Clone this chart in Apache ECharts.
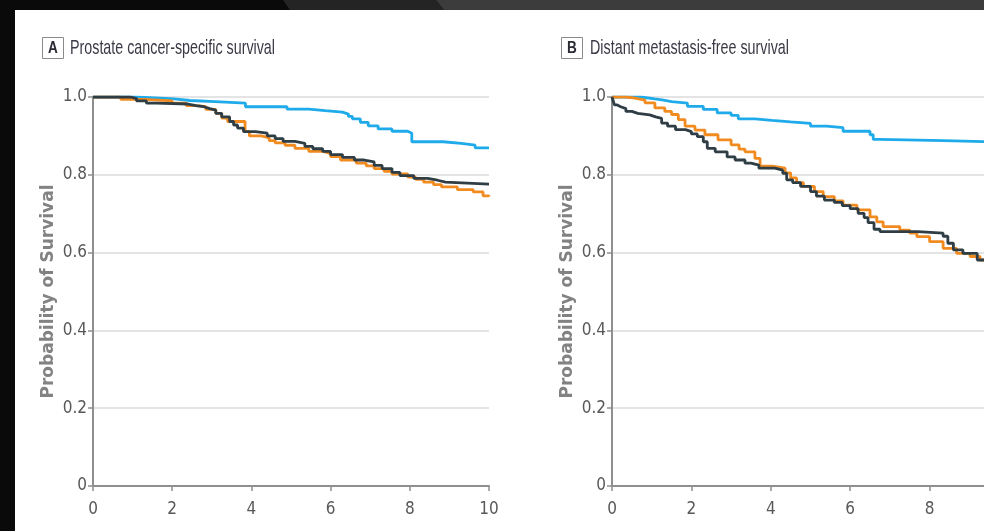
<!DOCTYPE html>
<html><head><meta charset="utf-8">
<script src="https://cdn.jsdelivr.net/npm/echarts@6/dist/echarts.min.js"></script>
<style>html,body{margin:0;padding:0;background:#0a0a0a;}#c{width:984px;height:531px;}</style>
</head><body><div id="c"></div>
<script>
// ---- Data (years, survival probability) ----
var xTicks = [0, 2, 4, 6, 8, 10];
var yTicks = [0, 0.2, 0.4, 0.6, 0.8, 1.0];
var panelTitles = ['Prostate cancer-specific survival', 'Distant metastasis-free survival'];
var panelLetters = ['A', 'B'];
var yAxisTitle = 'Probability of Survival';

// Panel A: prostate cancer-specific survival
var A_blue_t = [0,1.05,1.55,2.05,2.45,3.08,3.85,4.9,5.45,5.86,6.3,6.45,6.55,6.75,6.95,7.2,7.55,7.95,8.05,8.84,9.3,9.65,10];
var A_blue_s = [1,0.998,0.995,0.991,0.988,0.984,0.975,0.969,0.965,0.961,0.956,0.950,0.944,0.935,0.926,0.918,0.912,0.907,0.885,0.881,0.876,0.869,0.869];
var A_orange_t = [0,0.7,1.3,2.0,2.35,2.6,2.85,3.1,3.25,3.4,3.84,3.95,4.25,4.45,4.6,4.85,5.1,5.45,5.8,6.0,6.25,6.65,6.9,7.1,7.35,7.55,7.95,8.15,8.35,8.6,8.8,9.2,9.6,9.85,10];
var A_orange_s = [1,0.994,0.99,0.984,0.978,0.975,0.968,0.958,0.946,0.937,0.911,0.9,0.895,0.888,0.882,0.876,0.868,0.86,0.855,0.847,0.838,0.83,0.823,0.816,0.809,0.802,0.794,0.788,0.781,0.775,0.769,0.762,0.756,0.746,0.744];
var A_dark_t = [0,0.95,1.1,1.35,1.6,2.4,2.6,2.8,2.95,3.1,3.25,3.45,3.55,3.65,3.8,4.1,4.4,4.6,4.8,5.1,5.35,5.55,5.8,6.0,6.3,6.6,6.85,7.1,7.3,7.55,7.75,8.1,8.45,8.7,8.9,10];
var A_dark_s = [1,0.996,0.99,0.984,0.982,0.978,0.975,0.97,0.966,0.958,0.949,0.937,0.928,0.92,0.911,0.907,0.9,0.893,0.886,0.881,0.873,0.867,0.86,0.852,0.845,0.838,0.833,0.824,0.816,0.806,0.798,0.791,0.786,0.781,0.776,0.776];

// Panel B: distant metastasis-free survival
var B_blue_t = [0,0.72,1.08,1.3,1.5,1.9,2.3,2.65,3.0,3.18,3.6,4.03,4.5,5.0,5.4,5.82,6.5,6.58,6.75,8.34,10];
var B_blue_s = [1,0.995,0.992,0.988,0.984,0.976,0.968,0.959,0.953,0.944,0.94,0.936,0.932,0.925,0.921,0.912,0.903,0.891,0.888,0.884,0.884];
var B_orange_t = [0,0.35,0.58,0.83,1.08,1.33,1.5,1.67,1.84,2.09,2.34,2.67,3.0,3.2,3.35,3.6,3.73,4.03,4.36,4.5,4.65,4.82,5.1,5.32,5.6,5.82,6.17,6.5,6.67,6.83,7.25,7.5,7.68,8.0,8.34,8.68,9.02,9.27,9.6,10];
var B_orange_s = [1,0.997,0.992,0.985,0.972,0.963,0.955,0.942,0.925,0.915,0.903,0.89,0.877,0.866,0.859,0.842,0.822,0.817,0.805,0.792,0.78,0.77,0.757,0.744,0.733,0.722,0.71,0.692,0.679,0.667,0.658,0.65,0.641,0.628,0.611,0.598,0.59,0.581,0.575,0.57];
var B_dark_t = [0,0.03,0.06,0.12,0.22,0.35,0.5,0.65,0.95,1.1,1.25,1.4,1.6,1.85,2.0,2.15,2.3,2.4,2.6,2.9,3.1,3.35,3.5,3.7,4.1,4.3,4.4,4.55,4.75,5.0,5.15,5.35,5.6,5.8,6.0,6.2,6.35,6.45,6.6,6.75,7.7,8.34,8.46,8.6,8.84,9.2,9.6,10];
var B_dark_s = [1,0.99,0.98,0.975,0.97,0.963,0.958,0.954,0.949,0.945,0.933,0.925,0.916,0.911,0.905,0.898,0.885,0.868,0.859,0.846,0.838,0.83,0.825,0.817,0.812,0.804,0.787,0.78,0.77,0.757,0.745,0.735,0.729,0.721,0.713,0.701,0.69,0.677,0.66,0.654,0.65,0.642,0.624,0.607,0.598,0.581,0.575,0.57];

var colBlue = '#1faaea', colOrange = '#f18b1f', colDark = '#2f3d45';

function pairs(t, s) { return t.map(function (v, i) { return [v, s[i]]; }); }

var chart = echarts.init(document.getElementById('c'), null, {renderer: 'canvas'});
var labelFont = "'DejaVu Sans Condensed', 'Liberation Sans', sans-serif";
var titleFont = "'Liberation Sans', sans-serif";
var axisCol = '#8f8f8f';

// measure title widths so condensed look matches the reference width
var mctx = document.createElement('canvas').getContext('2d');
mctx.font = '21px ' + titleFont;
var titleTargetW = [205, 199];
var titleScale = panelTitles.map(function (t, i) { return titleTargetW[i] / mctx.measureText(t).width; });

function xAx(i) {
  return {
    type: 'value', gridIndex: i, min: xTicks[0], max: xTicks[xTicks.length - 1], interval: 2,
    axisLine: {show: true, onZero: false, lineStyle: {color: axisCol, width: 2}},
    axisTick: {show: true, length: 5, lineStyle: {color: axisCol, width: 1.5}},
    axisLabel: {color: '#585858', fontFamily: labelFont, fontSize: 17, margin: 15},
    splitLine: {show: false}
  };
}
function yAx(i) {
  return {
    type: 'value', gridIndex: i, min: yTicks[0], max: yTicks[yTicks.length - 1], interval: 0.2,
    axisLine: {show: true, onZero: false, lineStyle: {color: axisCol, width: 2}},
    axisTick: {show: true, length: 5, lineStyle: {color: axisCol, width: 1.5}},
    axisLabel: {color: '#585858', fontFamily: labelFont, fontSize: 17, margin: 6,
      formatter: function (v) { return v === 0 ? '0' : v.toFixed(1); }},
    splitLine: {show: true, lineStyle: {color: '#e4e4e4', width: 2}},
    name: yAxisTitle, nameLocation: 'middle', nameGap: 36,
    nameTextStyle: {fontFamily: 'DejaVu Sans', fontWeight: 'bold', fontSize: 17, color: '#828282'}
  };
}
function line(name, i, t, s, c, z) {
  return {
    name: name, type: 'line', xAxisIndex: i, yAxisIndex: i, step: 'end', showSymbol: false,
    data: pairs(t, s), lineStyle: {color: c, width: 2.8}, itemStyle: {color: c}, z: z,
    animation: false, silent: true
  };
}

var titleStyle = {fontFamily: titleFont, fontSize: 21, fill: '#3a3a46'};
chart.setOption({
  animation: false,
  backgroundColor: 'transparent',
  grid: [
    {left: 93, top: 97, width: 396, height: 389, containLabel: false, outerBoundsMode: 'none'},
    {left: 612, top: 97, width: 397, height: 389, containLabel: false, outerBoundsMode: 'none'}
  ],
  xAxis: [xAx(0), xAx(1)],
  yAxis: [yAx(0), yAx(1)],
  graphic: {elements: [
    {type: 'rect', z: -100, shape: {x: 15, y: 10, width: 969, height: 521}, style: {fill: '#ffffff'}},
    {type: 'polygon', z: -100, shape: {points: [[283, 0], [436, 0], [444, 10], [290, 10]]}, style: {fill: '#242424'}},
    {type: 'polygon', z: -100, shape: {points: [[436, 0], [984, 0], [984, 10], [444, 10]]}, style: {fill: '#3c3c3c'}},
    {type: 'rect', shape: {x: 42.5, y: 37.5, width: 21, height: 21}, style: {fill: '#fff', stroke: '#8a8a8a', lineWidth: 1}},
    {type: 'text', x: 53, y: 48.5, scaleX: 0.8, style: {text: panelLetters[0], fontFamily: titleFont, fontWeight: 'bold', fontSize: 17, fill: '#2a2a35', textAlign: 'center', textVerticalAlign: 'middle'}},
    {type: 'text', x: 70, y: 48, scaleX: titleScale[0], style: Object.assign({text: panelTitles[0], textVerticalAlign: 'middle'}, titleStyle)},
    {type: 'rect', shape: {x: 561.5, y: 37.5, width: 21, height: 21}, style: {fill: '#fff', stroke: '#8a8a8a', lineWidth: 1}},
    {type: 'text', x: 572, y: 48.5, scaleX: 0.8, style: {text: panelLetters[1], fontFamily: titleFont, fontWeight: 'bold', fontSize: 17, fill: '#2a2a35', textAlign: 'center', textVerticalAlign: 'middle'}},
    {type: 'text', x: 590, y: 48, scaleX: titleScale[1], style: Object.assign({text: panelTitles[1], textVerticalAlign: 'middle'}, titleStyle)}
  ]},
  series: [
    line('A blue', 0, A_blue_t, A_blue_s, colBlue, 3),
    line('A orange', 0, A_orange_t, A_orange_s, colOrange, 4),
    line('A dark', 0, A_dark_t, A_dark_s, colDark, 5),
    line('B blue', 1, B_blue_t, B_blue_s, colBlue, 3),
    line('B orange', 1, B_orange_t, B_orange_s, colOrange, 4),
    line('B dark', 1, B_dark_t, B_dark_s, colDark, 5)
  ]
});
</script></body></html>
